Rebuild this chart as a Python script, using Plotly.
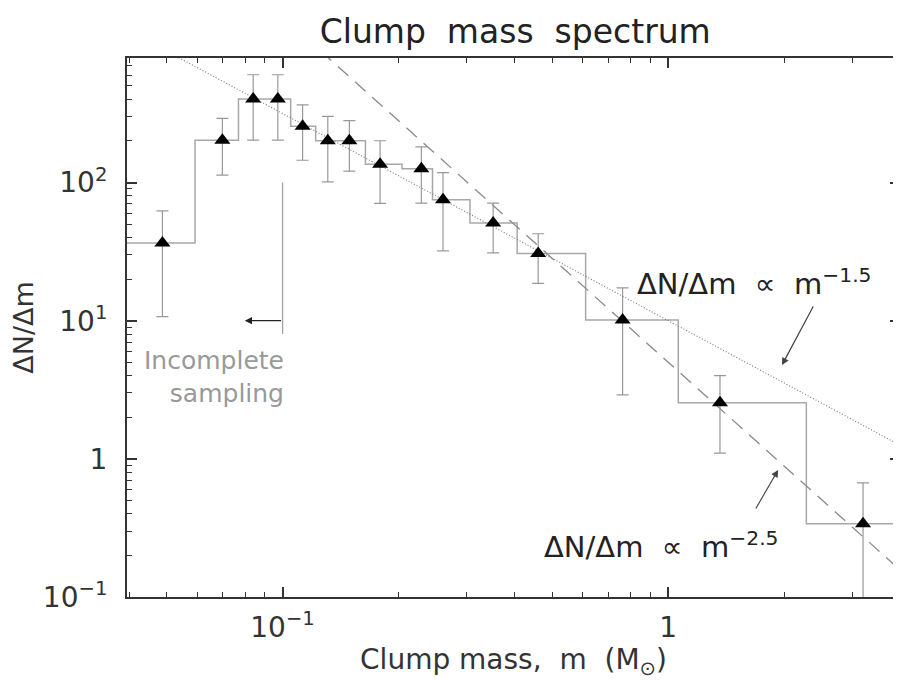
import plotly.graph_objects as go
import numpy as np

# Data
mass = [0.0488, 0.0698, 0.0839, 0.0972, 0.1127, 0.131, 0.149, 0.179, 0.229,
        0.2606, 0.3516, 0.46, 0.7615, 1.362, 3.2]
dndm = [36.5, 202, 403, 403, 255, 201, 201, 135.6, 126,
        75, 51, 30.6, 10.1, 2.55, 0.339]
err = [25.8, 89, 200, 200, 110, 100, 80, 65, 55,
       43, 20, 12, 7.2, 1.45, 0.33]

# Power-law reference lines: dN/dm = A * m^slope
fit_names = ["m^-1.5", "m^-2.5"]
fit_amp = [10.0, 5.0]
fit_slope = [-1.5, -2.5]
fit_mass = [0.03, 5.0]

# incomplete-sampling marker
cut_mass = [0.1, 0.1]
cut_vals = [100, 8]

x_tickvals = [0.1, 1]
x_ticktext = ["10<sup>\u22121</sup>", "1"]
y_tickvals = [0.1, 1, 10, 100]
y_ticktext = ["10<sup>\u22121</sup>", "1", "10<sup>1</sup>", "10<sup>2</sup>"]
xminor = [0.04, 0.05, 0.06, 0.07, 0.08, 0.09, 0.2, 0.3, 0.4, 0.5, 0.6, 0.7, 0.8, 0.9, 2, 3, 4]
yminor = [0.2, 0.3, 0.4, 0.5, 0.6, 0.7, 0.8, 0.9, 2, 3, 4, 5, 6, 7, 8, 9,
          20, 30, 40, 50, 60, 70, 80, 90, 200, 300, 400, 500, 600, 700]

FONT = "DejaVu Sans"
TXT = "#222222"
AX = "#333333"
SP = "\u00a0\u00a0"

XR = [np.log10(0.0395), np.log10(3.99)]
YR = [-1, np.log10(797)]

# histogram step edges (IDL psym=10 style: steps at midpoints)
m = np.array(mass)
mids = (m[:-1] + m[1:]) / 2
left0 = m[0] - (m[1] - m[0]) / 2
right_end = m[-1] + (m[-1] - m[-2]) / 2
edges = np.concatenate([[left0], mids])
hx = list(edges) + [right_end]
hy = list(dndm) + [dndm[-1]]

fig = go.Figure()

fig.add_trace(go.Scatter(x=hx, y=hy, mode="lines", line_shape="hv",
                         line=dict(color="#a8a8a8", width=1.5), hoverinfo="skip",
                         showlegend=False))

for A, s, dash, col, w in zip(fit_amp, fit_slope, ["1px,2px", "14px,9px"],
                              ["#777777", "#8a8a8a"], [1.1, 1.3]):
    fx = np.logspace(np.log10(fit_mass[0]), np.log10(fit_mass[1]), 50)
    fig.add_trace(go.Scatter(x=fx, y=A * fx ** s, mode="lines",
                             line=dict(color=col, width=w, dash=dash),
                             hoverinfo="skip", showlegend=False))

fig.add_trace(go.Scatter(x=cut_mass, y=cut_vals, mode="lines",
                         line=dict(color="#a0a0a0", width=1.3), showlegend=False))

fig.add_trace(go.Scatter(x=mass, y=dndm, mode="markers",
                         marker=dict(symbol="triangle-up", size=14, color="black",
                                     line=dict(width=0)),
                         error_y=dict(type="data", array=err, visible=True,
                                      color="#999999", thickness=1.2, width=6),
                         showlegend=False))

# invisible trace on the mirror axes (top / right) so their ticks are drawn
fig.add_trace(go.Scatter(x=[mass[0]], y=[dndm[0]], xaxis="x2", yaxis="y2",
                         mode="markers", marker=dict(opacity=0), hoverinfo="skip",
                         showlegend=False))

tick_common = dict(type="log", showgrid=False, zeroline=False, showline=True,
                   linecolor=AX, linewidth=2, automargin=False,
                   ticks="inside", ticklen=10, tickwidth=1.5, tickcolor=AX)
minor_x = dict(tickmode="array", tickvals=xminor, ticks="inside",
               ticklen=5, tickwidth=1.2, tickcolor=AX)
minor_y = dict(tickmode="array", tickvals=yminor, ticks="inside",
               ticklen=5, tickwidth=1.2, tickcolor=AX)

# page body has an 8px margin, so the figure is sized to fit the 901x680 window
fig.update_layout(
    width=893, height=672,
    margin=dict(l=119, r=1, t=50, b=83),
    paper_bgcolor="white", plot_bgcolor="white",
    title=dict(text="Clump" + SP + "mass" + SP + "spectrum", x=0.568, xanchor="center",
               y=0.965, yanchor="middle", font=dict(family=FONT, size=33, color=TXT)),
    xaxis=dict(**tick_common, range=XR, tickmode="array", tickvals=x_tickvals,
               ticktext=x_ticktext, ticklabelstandoff=4, minor=minor_x,
               tickfont=dict(family=FONT, size=28, color=AX),
               title=dict(text="Clump mass," + SP + "m" + SP + "(M<sub>\u2299</sub>)",
                          standoff=6, font=dict(family=FONT, size=28, color=AX))),
    yaxis=dict(**tick_common, range=YR, tickmode="array", tickvals=y_tickvals,
               ticktext=y_ticktext, ticklabelstandoff=12, minor=minor_y,
               tickfont=dict(family=FONT, size=28, color=AX),
               title=dict(text="\u0394N/\u0394m", standoff=14,
                          font=dict(family=FONT, size=27, color=AX))),
    xaxis2=dict(**tick_common, range=XR, overlaying="x", side="top", anchor="y2",
                tickmode="array", tickvals=x_tickvals, showticklabels=False,
                minor=minor_x),
    yaxis2=dict(**tick_common, range=YR, overlaying="y", side="right", anchor="x2",
                tickmode="array", tickvals=y_tickvals, showticklabels=False,
                minor=minor_y),
)

ann_font = dict(family=FONT, size=29, color=TXT)
fig.add_annotation(x=-0.085, y=np.log10(19), xref="x", yref="y", xanchor="left",
                   yanchor="middle", showarrow=False, font=ann_font,
                   text="\u0394N/\u0394m" + SP + "\u221d" + SP + "m<sup>\u22121.5</sup>")
fig.add_annotation(x=-0.328, y=-0.625, xref="x", yref="y", xanchor="left",
                   yanchor="middle", showarrow=False, font=ann_font,
                   text="\u0394N/\u0394m" + SP + "\u221d" + SP + "m<sup>\u22122.5</sup>")
fig.add_annotation(x=-0.99, y=np.log10(3.9), xref="x", yref="y", xanchor="right",
                   yanchor="middle", showarrow=False, align="right",
                   font=dict(family=FONT, size=25, color="#999999"),
                   text="Incomplete<br>sampling")

# arrows
arrows = [
    dict(x=0.295, y=0.679, ax=0.378, ay=1.1136, color="#444444"),
    dict(x=0.285, y=-0.080, ax=0.225, ay=-0.370, color="#444444"),
    dict(x=-1.098, y=1.0, ax=-1.0, ay=1.0, color="#222222"),
]
for a in arrows:
    fig.add_annotation(x=a["x"], y=a["y"], ax=a["ax"], ay=a["ay"], xref="x", yref="y",
                       axref="x", ayref="y", text="", showarrow=True, arrowhead=2,
                       arrowsize=1.2, arrowwidth=1.2, arrowcolor=a["color"])

fig.write_html("out.html")
